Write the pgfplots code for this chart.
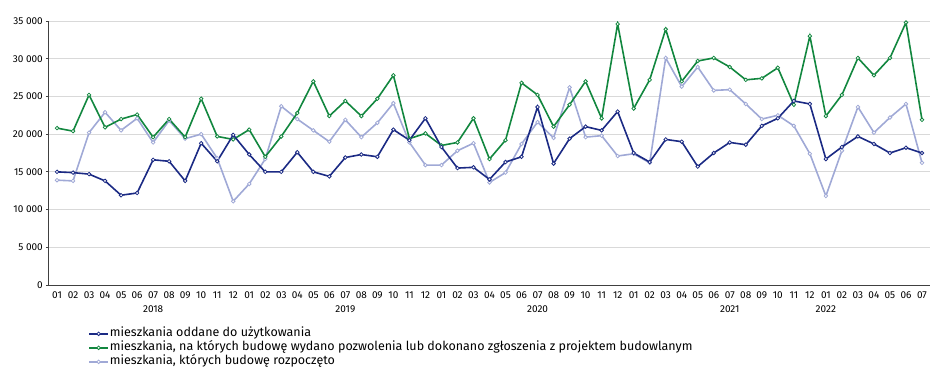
\documentclass[border=0pt]{standalone}
\usepackage{pgfplots}
\pgfplotsset{compat=1.18}
\usepackage{fontspec}
\setmainfont{Fira Sans}
\definecolor{cNavy}{HTML}{1B2A84}
\definecolor{cGreen}{HTML}{12873F}
\definecolor{cLight}{HTML}{A0A9D6}
\definecolor{cGrid}{HTML}{D9D9D9}
\definecolor{cAxis}{HTML}{404040}
\begin{document}
\begin{tikzpicture}
\begin{axis}[
  scale only axis,
  width=881pt, height=264pt,
  xmin=-0.5, xmax=54.5,
  ymin=0, ymax=35000,
  ytick={0,5000,10000,15000,20000,25000,30000,35000},
  axis lines*=left,
  axis line style={cAxis, line width=1pt},
  ymajorgrids,
  grid style={cGrid, line width=0.8pt},
  xtick={0,...,54},
  xticklabels={01,02,03,04,05,06,{07\\2018},08,09,10,11,12,
               01,02,03,04,05,06,{07\\2019},08,09,10,11,12,
               01,02,03,04,05,06,{07\\2020},08,09,10,11,12,
               01,02,03,04,05,06,{07\\2021},08,09,10,11,12,
               {01\\2022},02,03,04,05,06,07},
  x tick style={draw=none},
  y tick style={cAxis, line width=0.8pt},
  tick align=outside,
  major tick length=3pt,
  xticklabel style={font=\fontsize{10}{14}\selectfont, align=center, anchor=north, inner sep=0pt, yshift=-4pt},
  yticklabel style={font=\fontsize{10}{12}\selectfont, inner sep=0pt, xshift=-3pt},
  /pgf/number format/assume math mode=true,
  /pgf/number format/.cd, 1000 sep={\ }, /pgfplots/.cd,
  scaled y ticks=false,
  every axis plot/.append style={line width=1.6pt, mark=*, mark size=1.8pt, mark options={fill=white, line width=0.8pt}},
  legend cell align=left,
  reverse legend,
  legend style={at={(0.041,-0.15)}, anchor=north west, draw=none, fill=none,
    font=\fontsize{12.5}{15}\selectfont,
    nodes={inner sep=1pt, text height=9pt, text depth=3pt},
    row sep=0pt, column sep=0pt},
  legend image code/.code={\draw[mark repeat=2, mark phase=2, #1] plot coordinates {(0pt,0pt) (9.5pt,0pt) (19pt,0pt)};},
]
\addplot[color=cLight] coordinates {
(0,13900)(1,13800)(2,20200)(3,22900)(4,20500)(5,22100)(6,18900)(7,21800)(8,19400)(9,20000)(10,16800)(11,11100)
(12,13400)(13,16700)(14,23700)(15,22000)(16,20500)(17,19000)(18,21900)(19,19600)(20,21500)(21,24100)(22,18900)(23,15900)
(24,15900)(25,17800)(26,18800)(27,13600)(28,14900)(29,18700)(30,21600)(31,19500)(32,26200)(33,19600)(34,19800)(35,17100)
(36,17400)(37,16200)(38,30100)(39,26300)(40,28900)(41,25800)(42,25900)(43,24000)(44,22000)(45,22500)(46,21100)(47,17400)
(48,11800)(49,17800)(50,23600)(51,20200)(52,22200)(53,24000)(54,16200)};
\addlegendentry{mieszkania, których budowę rozpoczęto}
\addplot[color=cGreen] coordinates {
(0,20800)(1,20400)(2,25200)(3,20900)(4,22000)(5,22600)(6,19600)(7,22000)(8,19600)(9,24700)(10,19700)(11,19300)
(12,20600)(13,17000)(14,19700)(15,22800)(16,27000)(17,22400)(18,24400)(19,22400)(20,24700)(21,27800)(22,19400)(23,20100)
(24,18500)(25,18900)(26,22100)(27,16700)(28,19200)(29,26800)(30,25200)(31,21000)(32,23900)(33,27000)(34,22100)(35,34600)
(36,23400)(37,27200)(38,33900)(39,27000)(40,29700)(41,30100)(42,28900)(43,27200)(44,27400)(45,28800)(46,23900)(47,33000)
(48,22400)(49,25200)(50,30100)(51,27800)(52,30100)(53,34800)(54,21900)};
\addlegendentry{mieszkania, na których budowę wydano pozwolenia lub dokonano zgłoszenia z projektem budowlanym}
\addplot[color=cNavy] coordinates {
(0,15000)(1,14900)(2,14700)(3,13800)(4,11900)(5,12200)(6,16600)(7,16400)(8,13800)(9,18800)(10,16400)(11,19900)
(12,17300)(13,15000)(14,15000)(15,17600)(16,15000)(17,14400)(18,16900)(19,17300)(20,17000)(21,20600)(22,19200)(23,22100)
(24,18300)(25,15500)(26,15600)(27,14000)(28,16300)(29,17000)(30,23600)(31,16100)(32,19400)(33,21000)(34,20500)(35,23000)
(36,17500)(37,16300)(38,19300)(39,19000)(40,15700)(41,17500)(42,18900)(43,18600)(44,21100)(45,22100)(46,24400)(47,24000)
(48,16700)(49,18300)(50,19700)(51,18700)(52,17500)(53,18200)(54,17500)};
\addlegendentry{mieszkania oddane do użytkowania}
\end{axis}
\path (-49pt,-106pt) rectangle (899pt,285pt);
\end{tikzpicture}
\end{document}
